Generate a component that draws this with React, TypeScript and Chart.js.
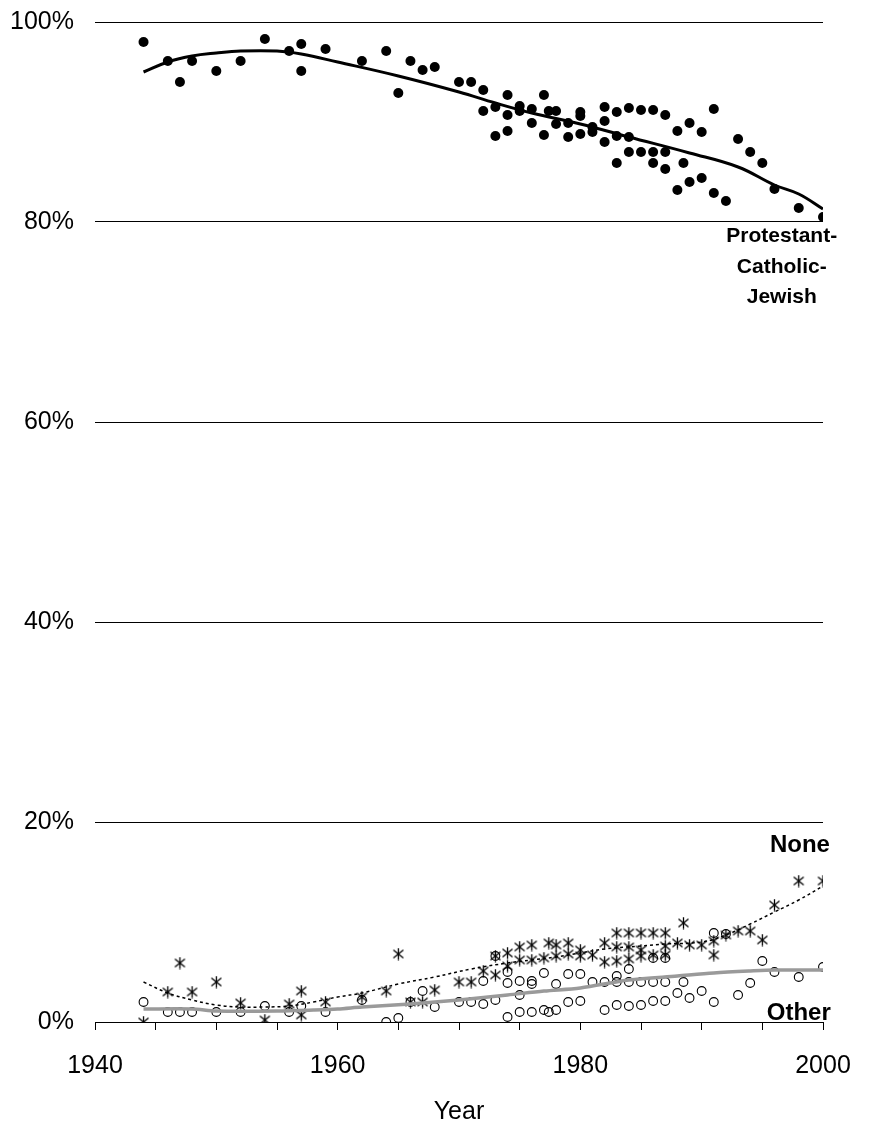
import React, { useEffect, useRef } from "react";
import { Chart, registerables } from "chart.js";

Chart.register(...registerables);

// ---- Protestant-Catholic-Jewish (filled dots) ----
const pcjYears = [1944, 1946, 1947, 1948, 1950, 1952, 1954, 1956, 1957, 1957, 1959, 1962, 1964, 1965, 1966, 1967, 1968, 1970, 1971, 1972, 1972, 1973, 1973, 1974, 1974, 1974, 1975, 1975, 1976, 1976, 1977, 1977, 1977.4, 1978, 1978, 1979, 1979, 1980, 1980, 1980, 1981, 1981, 1982, 1982, 1982, 1983, 1983, 1983, 1984, 1984, 1984, 1985, 1985, 1986, 1986, 1986, 1987, 1987, 1987, 1988, 1988, 1988.5, 1989, 1989, 1990, 1990, 1991, 1991, 1992, 1993, 1994, 1995, 1996, 1998, 2000];
const pcjValues = [98.0, 96.1, 94.0, 96.1, 95.1, 96.1, 98.3, 97.1, 97.8, 95.1, 97.3, 96.1, 97.1, 92.9, 96.1, 95.2, 95.5, 94.0, 94.0, 93.2, 91.1, 91.5, 88.6, 92.7, 90.7, 89.1, 91.6, 91.1, 91.3, 89.9, 92.7, 88.7, 91.1, 91.1, 89.8, 89.9, 88.5, 91.0, 90.6, 88.8, 89.5, 89.0, 91.5, 90.1, 88.0, 91.0, 88.6, 85.9, 91.4, 88.5, 87.0, 91.2, 87.0, 91.2, 87.0, 85.9, 90.7, 87.0, 85.3, 89.1, 83.2, 85.9, 89.9, 84.0, 89.0, 84.4, 91.3, 82.9, 82.1, 88.3, 87.0, 85.9, 83.3, 81.4, 80.5];

// ---- None (asterisks) ----
const noneYears = [1944, 1946, 1947, 1948, 1950, 1952, 1954, 1956, 1957, 1957, 1959, 1962, 1964, 1965, 1966, 1967, 1968, 1970, 1971, 1972, 1973, 1973, 1974, 1974, 1975, 1975, 1976, 1976, 1977, 1977.4, 1978, 1978, 1979, 1979, 1980, 1980, 1981, 1982, 1982, 1983, 1983, 1983, 1984, 1984, 1984, 1985, 1985, 1985, 1986, 1986, 1987, 1987, 1987, 1988, 1988.5, 1989, 1990, 1991, 1991, 1992, 1993, 1994, 1995, 1996, 1998, 2000];
const noneValues = [0.0, 3.0, 5.9, 3.0, 4.0, 1.9, 0.2, 1.8, 3.1, 0.7, 2.0, 2.5, 3.1, 6.8, 2.0, 2.0, 3.2, 4.0, 4.0, 5.1, 6.6, 4.7, 6.9, 5.6, 7.5, 6.2, 7.7, 6.2, 6.4, 7.9, 7.7, 6.6, 7.9, 6.8, 7.2, 6.6, 6.7, 7.9, 6.0, 8.9, 7.5, 6.1, 8.9, 7.5, 6.3, 8.9, 7.2, 6.6, 8.9, 6.7, 8.9, 7.6, 6.7, 7.9, 9.9, 7.7, 7.7, 8.1, 6.7, 8.7, 9.1, 9.1, 8.2, 11.7, 14.1, 14.1];

// ---- Other (open circles) ----
const otherYears = [1944, 1946, 1947, 1948, 1950, 1952, 1954, 1956, 1957, 1959, 1962, 1964, 1965, 1966, 1967, 1968, 1970, 1971, 1972, 1972, 1973, 1973, 1974, 1974, 1974, 1975, 1975, 1975, 1976, 1976, 1976, 1977, 1977, 1977.4, 1978, 1978, 1979, 1979, 1980, 1980, 1981, 1982, 1982, 1983, 1983, 1983, 1984, 1984, 1984, 1985, 1985, 1986, 1986, 1986, 1987, 1987, 1987, 1988, 1988.5, 1989, 1990, 1991, 1991, 1992, 1993, 1994, 1995, 1996, 1998, 2000];
const otherValues = [2.0, 1.0, 1.0, 1.0, 1.0, 1.0, 1.6, 1.0, 1.6, 1.0, 2.2, 0.0, 0.4, 2.0, 3.1, 1.5, 2.0, 2.0, 4.1, 1.8, 6.6, 2.2, 5.0, 3.9, 0.5, 4.1, 2.7, 1.0, 4.1, 3.8, 1.0, 4.9, 1.2, 1.0, 3.8, 1.2, 4.8, 2.0, 4.8, 2.1, 4.0, 4.0, 1.2, 4.6, 4.0, 1.7, 5.3, 4.0, 1.6, 4.0, 1.7, 6.4, 4.0, 2.1, 6.4, 4.0, 2.1, 2.9, 4.0, 2.4, 3.1, 8.9, 2.0, 8.8, 2.7, 3.9, 6.1, 5.0, 4.5, 5.5];

// ---- Smoothed trend lines ----
const pcjTrendYears = [1944, 1946, 1948, 1950, 1952, 1955, 1957, 1960, 1965, 1970, 1973, 1976, 1980, 1984, 1989, 1993, 1996, 1998, 2000];
const pcjTrendValues = [95.0, 96.0, 96.6, 96.9, 97.1, 97.1, 96.8, 96.0, 94.6, 93.0, 91.9, 90.9, 89.8, 88.5, 86.9, 85.5, 83.7, 82.8, 81.3];
const noneTrendYears = [1944, 1946, 1948, 1950, 1952, 1954, 1956, 1958, 1960, 1962, 1965, 1968, 1971, 1974, 1976, 1978, 1980, 1982, 1985, 1987, 1990, 1992, 1994, 1996, 1998, 2000];
const noneTrendValues = [4.0, 2.9, 2.2, 1.7, 1.5, 1.5, 1.6, 2.0, 2.5, 2.9, 3.8, 4.5, 5.3, 5.9, 6.2, 6.5, 6.9, 7.3, 7.6, 7.8, 8.0, 8.7, 9.8, 11.0, 12.2, 13.6];
const otherTrendYears = [1944, 1948, 1950, 1955, 1958, 1960, 1962, 1966, 1970, 1974, 1977, 1980, 1984, 1988, 1991, 1994, 1996, 2000];
const otherTrendValues = [1.3, 1.3, 1.1, 1.1, 1.2, 1.3, 1.5, 1.8, 2.2, 2.7, 3.1, 3.4, 4.2, 4.6, 4.9, 5.1, 5.2, 5.2];

// ---- Axis ticks ----
const xLabelYears = [1940, 1960, 1980, 2000];
const yTickValues = [0, 20, 40, 60, 80, 100];

// ---- Series labels (text, anchor year, anchor value) ----
const seriesLabels = [
  { text: "Protestant-", x: 1996.6, y: 78.6, size: 21 },
  { text: "Catholic-", x: 1996.6, y: 75.5, size: 21 },
  { text: "Jewish", x: 1996.6, y: 72.5, size: 21 },
  { text: "None", x: 1998.1, y: 17.7, size: 24 },
  { text: "Other", x: 1998.0, y: 0.9, size: 24 },
];

const FONT = '"Liberation Sans", Arial, sans-serif';

const pts = (xs: number[], ys: number[]) => xs.map((x, i) => ({ x, y: ys[i] }));

function makeAsterisk(): HTMLCanvasElement {
  const c = document.createElement("canvas");
  c.width = 13;
  c.height = 13;
  const g = c.getContext("2d")!;
  g.strokeStyle = "#000";
  g.lineWidth = 1.3;
  g.beginPath();
  g.moveTo(6.5, 0.5);
  g.lineTo(6.5, 12.5);
  g.moveTo(1.5, 2.5);
  g.lineTo(11.5, 10.5);
  g.moveTo(1.5, 10.5);
  g.lineTo(11.5, 2.5);
  g.stroke();
  return c;
}

const labelPlugin = {
  id: "seriesLabels",
  afterDatasetsDraw(chart: any) {
    const { ctx, scales } = chart;
    ctx.save();
    ctx.fillStyle = "#000";
    ctx.textAlign = "center";
    ctx.textBaseline = "middle";
    for (const l of seriesLabels) {
      ctx.font = `bold ${l.size}px ${FONT}`;
      ctx.fillText(l.text, scales.x.getPixelForValue(l.x), scales.y.getPixelForValue(l.y));
    }
    ctx.restore();
  },
};

export default function App() {
  const ref = useRef<HTMLCanvasElement>(null);
  useEffect(() => {
    document.body.style.margin = "0";
    const star = makeAsterisk();
    const chart = new Chart(ref.current!, {
      type: "scatter",
      data: {
        datasets: [
          {
            label: "PCJ trend",
            data: pts(pcjTrendYears, pcjTrendValues),
            showLine: true,
            borderColor: "#000",
            borderWidth: 3,
            pointRadius: 0,
            tension: 0.4,
          },
          {
            label: "None trend",
            data: pts(noneTrendYears, noneTrendValues),
            showLine: true,
            borderColor: "#000",
            borderWidth: 1.5,
            borderDash: [3, 3],
            pointRadius: 0,
            tension: 0.4,
          },
          {
            label: "Other trend",
            data: pts(otherTrendYears, otherTrendValues),
            showLine: true,
            borderColor: "#9a9a9a",
            borderWidth: 3.5,
            pointRadius: 0,
            tension: 0.3,
          },
          {
            label: "Protestant-Catholic-Jewish",
            data: pts(pcjYears, pcjValues),
            pointStyle: "circle",
            pointRadius: 5,
            backgroundColor: "#000",
            borderColor: "#000",
            borderWidth: 0,
          },
          {
            label: "Other",
            data: pts(otherYears, otherValues),
            pointStyle: "circle",
            pointRadius: 4.4,
            backgroundColor: "rgba(0,0,0,0)",
            borderColor: "#000",
            borderWidth: 1.1,
          },
          {
            label: "None",
            data: pts(noneYears, noneValues),
            pointStyle: star,
            pointRadius: 6,
          },
        ],
      },
      options: {
        responsive: false,
        animation: false,
        devicePixelRatio: 1,
        layout: { padding: { top: 22, right: 51, bottom: 0, left: 0 } },
        plugins: { legend: { display: false }, tooltip: { enabled: false } },
        scales: {
          x: {
            type: "linear",
            min: 1940,
            max: 2000,
            afterFit: (s: any) => {
              s.height = 105;
            },
            ticks: {
              stepSize: 5,
              autoSkip: false,
              maxRotation: 0,
              padding: 21,
              color: "#000",
              font: { family: FONT, size: 25 },
              callback: (v: any) => (xLabelYears.includes(Number(v)) ? String(v) : ""),
            },
            grid: { drawOnChartArea: false, drawTicks: true, tickLength: 8, color: "#000", lineWidth: 1 },
            border: { display: true, color: "#000", width: 1 },
            title: {
              display: true,
              text: "Year",
              color: "#000",
              font: { family: FONT, size: 25 },
              padding: { top: 0, bottom: 0 },
            },
          },
          y: {
            min: 0,
            max: 100,
            afterFit: (s: any) => {
              s.width = 95;
              s.paddingTop = 0;
              s.paddingBottom = 0;
            },
            afterBuildTicks: (s: any) => {
              s.ticks = yTickValues.map((v) => ({ value: v }));
            },
            ticks: {
              padding: 21,
              color: "#000",
              font: { family: FONT, size: 25 },
              callback: (v: any) => `${v}%`,
            },
            grid: { color: "#000", lineWidth: 1, drawTicks: false },
            border: { display: false },
          },
        },
      },
      plugins: [labelPlugin],
    });
    return () => chart.destroy();
  }, []);
  return <canvas ref={ref} width={874} height={1127} style={{ display: "block" }} />;
}
